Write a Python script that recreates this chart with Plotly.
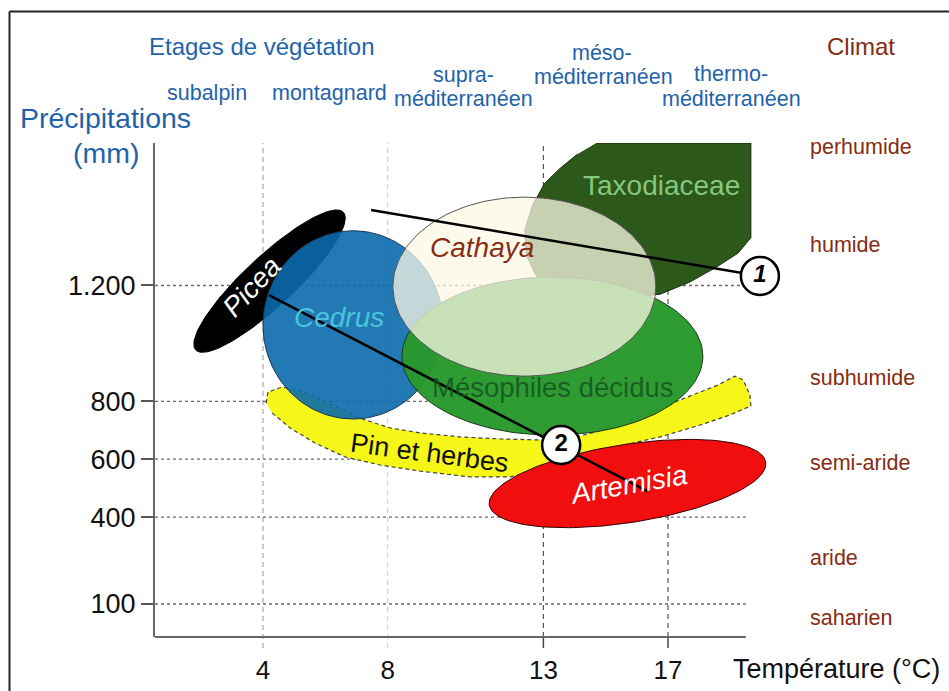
import numpy as np
import plotly.graph_objects as go

# ---------------- data ----------------
temp_ticks = [4, 8, 13, 17]
precip_ticks = [100, 400, 600, 800, 1200]
precip_ticklabels = ["100", "400", "600", "800", "1.200"]

stage_lines = ["subalpin", "montagnard", "supra-", "méditerranéen", "méso-",
               "méditerranéen", "thermo-", "méditerranéen"]
climate_labels = ["perhumide", "humide", "subhumide", "semi-aride", "aride", "saharien"]

# elliptical vegetation domains (center T °C, center P mm, half-extent T, half-extent P, tilt deg)
ell_names = ["Picea", "Cedrus", "Mésophiles décidus", "Artemisia", "Cathaya"]
ell_T = [4.21, 6.89, 13.29, 15.70, 12.39]
ell_P = [1215, 1064, 956, 516, 1196]
ell_dT = [3.24, 2.89, 4.83, 4.49, 4.22]
ell_dP = [86, 325, 273, 135, 309]
ell_tilt = [43, 0, 0, 8.8, 0]

# Taxodiaceae domain outline
taxo_T = [14.7, 19.66, 19.66, 19.25, 18.5, 17.7, 16.75, 15.45, 14.2, 13.3, 12.75,
          12.45, 12.4, 12.65, 13.05, 13.55, 14.1]
taxo_P = [1692, 1692, 1365, 1312, 1260, 1212, 1170, 1153, 1157, 1184, 1236,
          1305, 1392, 1477, 1554, 1606, 1654]

# "Pin et herbes" band outline
pin_T = [4.10, 4.16, 4.61, 5.25, 6.15, 7.11, 8.08, 9.04, 10.32, 11.61, 13.05, 14.18,
         15.46, 16.74, 18.03, 18.60, 19.15, 19.41, 19.63, 19.66,
         18.99, 18.03, 16.74, 15.46, 14.18, 13.05, 11.93, 10.64, 9.04, 7.76, 6.63,
         5.67, 4.87, 4.29]
pin_P = [794, 832, 849, 836, 791, 742, 708, 691, 677, 670, 666, 680,
         718, 777, 832, 856, 887, 874, 822, 784,
         753, 718, 677, 646, 615, 563, 539, 539, 559, 580, 608,
         656, 708, 760]

# transitions 1 and 2
trans1_T = [7.47, 19.95]
trans1_P = [1461, 1233]
trans2_T = [4.19, 16.33]
trans2_P = [1167, 490]
mark_T = [19.95, 13.57]
mark_P = [1233, 649]
mark_txt = ["<b><i>1</i></b>", "<b>2</b>"]

# ---------------- layout geometry ----------------
W, H = 949, 691
ML, MR, MT, MB = 155, 149, 143, 54
PW, PH = W - ML - MR, H - MT - MB
XR = [0.5333, 21.237]
YR = [-13.97, 1692.1]
X_END = 19.5
K = (PW / (XR[1] - XR[0])) / (PH / (YR[1] - YR[0]))  # mm per °C on screen

FONT = "Liberation Sans, Arial, sans-serif"
BLUE = "#1f63ab"
BROWN = "#862c12"


def px(x):
    return (x - ML) / PW


def py(y):
    return (H - MB - y) / PH


def ellipse(cT, cP, aT, bP, tilt, n=160):
    t = np.linspace(0, 2 * np.pi, n)
    u = aT * np.cos(t)
    v = (bP / K) * np.sin(t)
    th = np.radians(tilt)
    ur = u * np.cos(th) - v * np.sin(th)
    vr = u * np.sin(th) + v * np.cos(th)
    return cT + ur, cP + vr * K


fig = go.Figure()


def poly(T, P, fill, line, width=1, dash="solid"):
    fig.add_trace(go.Scatter(x=list(T), y=list(P), mode="lines", fill="toself",
                             fillcolor=fill, line=dict(color=line, width=width, dash=dash),
                             hoverinfo="skip", showlegend=False))


ell_style = {
    "Picea": ("#000000", "#000000"),
    "Cedrus": ("rgba(10,106,172,0.9)", "#1b3550"),
    "Mésophiles décidus": ("rgba(40,152,44,0.97)", "#1b3a1b"),
    "Artemisia": ("#f00e0e", "#330000"),
    "Cathaya": ("rgba(252,248,230,0.75)", "#555555"),
}
ell = {n: ellipse(ell_T[i], ell_P[i], ell_dT[i], ell_dP[i], ell_tilt[i])
       for i, n in enumerate(ell_names)}

poly(taxo_T, taxo_P, "#2d581b", "#1a2a10")
poly(*ell["Picea"], *ell_style["Picea"])
poly(pin_T, pin_P, "#f6f618", "#444444", 1.2, "4px,3px")
for n in ["Cedrus", "Mésophiles décidus", "Artemisia", "Cathaya"]:
    poly(*ell[n], *ell_style[n])

for T, P in [(trans1_T, trans1_P), (trans2_T, trans2_P)]:
    fig.add_trace(go.Scatter(x=T, y=P, mode="lines", line=dict(color="#000", width=2.5),
                             hoverinfo="skip", showlegend=False))

fig.add_trace(go.Scatter(x=mark_T, y=mark_P, mode="markers+text", text=mark_txt,
                         textposition="middle center",
                         textfont=dict(family=FONT, size=24, color="#000"),
                         marker=dict(size=38, color="white", line=dict(color="#000", width=2.5)),
                         cliponaxis=False, hoverinfo="skip", showlegend=False))

# ---------------- grid / axis shapes ----------------
shapes = []
for v in precip_ticks:
    shapes.append(dict(type="line", xref="x", yref="y", x0=XR[0], x1=X_END, y0=v, y1=v,
                       line=dict(color="#6a6a6a", width=1.3, dash="3px,3px"), layer="below"))
grid_col = {4: "#a8a8a8", 8: "#d2d2d2", 13: "#555555", 17: "#555555"}
for v in temp_ticks:
    light = v in (4, 8)
    shapes.append(dict(type="line", xref="x", yref="paper", x0=v, x1=v,
                       y0=(-11 / PH if light else 0), y1=1,
                       line=dict(color=grid_col[v], width=1.2, dash="5px,4px"), layer="below"))
    if not light:
        shapes.append(dict(type="line", xref="x", yref="paper", x0=v, x1=v, y0=-11 / PH, y1=0,
                           line=dict(color="#444", width=1.5)))
# x axis line
shapes.append(dict(type="line", xref="x", yref="paper", x0=XR[0], x1=X_END, y0=0, y1=0,
                   line=dict(color="#666", width=2)))
# outer frame (continues beyond the picture)
shapes.append(dict(type="line", xref="paper", yref="paper", x0=px(9.5), x1=px(9.5),
                   y0=py(11.5), y1=py(720), line=dict(color="#222", width=2)))
shapes.append(dict(type="line", xref="paper", yref="paper", x0=px(9.5), x1=px(980),
                   y0=py(11.5), y1=py(11.5), line=dict(color="#222", width=2)))

# ---------------- annotations ----------------
ann = []


def note(text, x, y, size, color, xanchor="center", angle=0, ref="paper"):
    if ref == "paper":
        d = dict(xref="paper", yref="paper", x=px(x), y=py(y))
    else:
        d = dict(xref="x", yref="y", x=x, y=y)
    d.update(text=text, showarrow=False, xanchor=xanchor, yanchor="middle",
             textangle=angle, font=dict(family=FONT, size=size, color=color))
    ann.append(d)


note("Etages de végétation", 261.5, 46, 24, BLUE)
stage_px = [(207, 93), (329, 93), (463, 75), (463, 99), (602, 53), (603, 77), (731, 74), (731, 99)]
for s, (x, y) in zip(stage_lines, stage_px):
    note(s, x, y, 21.5, BLUE)
note("Climat", 860.5, 47, 24, BROWN)
for c, y in zip(climate_labels, [147, 245, 378, 463, 558, 618]):
    note(c, 808, y, 21.5, BROWN, xanchor="left")
note("Précipitations", 105.5, 118, 28.5, BLUE)
note("(mm)", 105.5, 153, 28.5, BLUE)
note("Température (°C)", 731, 669, 27, "#111", xanchor="left")

region_labels = [
    ("Taxodiaceae", 16.78, 1547, 28, "#86c77e", 0),
    ("<i>Cathaya</i>", 11.03, 1330, 28, "#8a2d12", 0),
    ("<i>Picea</i>", 3.65, 1195, 28, "white", -47),
    ("<i>Cedrus</i>", 6.44, 1088, 28, "#48c4dc", 0),
    ("Mésophiles décidus", 13.31, 849, 27.5, "rgba(20,85,30,0.85)", 0),
    ("Pin et herbes", 9.33, 621, 27, "#111", 7.5),
    ("<i>Artemisia</i>", 15.72, 514, 28, "white", -10),
]
for t, x, y, s, c, a in region_labels:
    note(t, x, y, s, c, angle=a, ref="data")

fig.update_layout(
    width=W, height=H,
    margin=dict(l=ML, r=MR, t=MT, b=MB, autoexpand=False),
    paper_bgcolor="white", plot_bgcolor="rgba(0,0,0,0)",
    showlegend=False, shapes=shapes, annotations=ann,
    xaxis=dict(range=XR, showgrid=False, zeroline=False, showline=False,
               tickvals=temp_ticks, ticktext=[str(v) for v in temp_ticks],
               ticks="outside", ticklen=10, tickcolor="rgba(0,0,0,0)",
               tickfont=dict(family=FONT, size=26, color="#111"), automargin=False,
               fixedrange=True),
    yaxis=dict(range=YR, showgrid=False, zeroline=False, showline=True,
               linecolor="#666", linewidth=2,
               tickvals=precip_ticks, ticktext=precip_ticklabels,
               ticks="outside", ticklen=12, tickwidth=1.5, tickcolor="#555",
               tickfont=dict(family=FONT, size=27, color="#111"), automargin=False,
               fixedrange=True),
)

fig.write_html("out.html", config={"displayModeBar": False},
               post_script="document.body.style.margin='0';document.body.style.overflow='hidden';")
